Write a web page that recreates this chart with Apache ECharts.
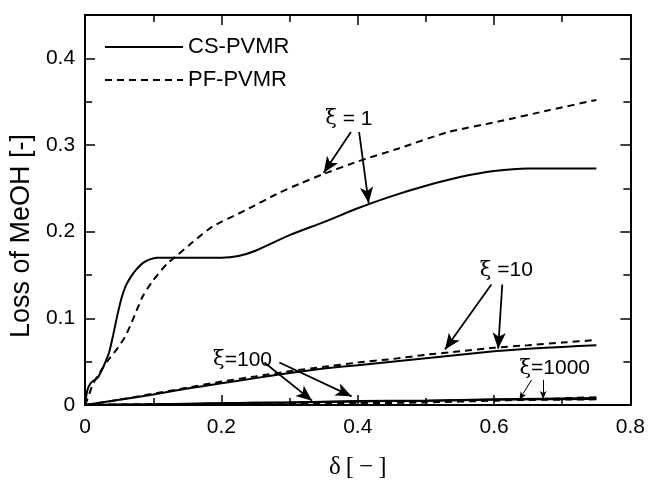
<!DOCTYPE html>
<html>
<head>
<meta charset="utf-8">
<script src="https://cdn.jsdelivr.net/npm/echarts@6/dist/echarts.min.js"></script>
<style>html,body{margin:0;padding:0;background:#fff}#c{width:648px;height:485px}</style>
</head>
<body>
<div id="c"></div>
<script>
// ---- data ----
var xTicks = [0, 0.2, 0.4, 0.6, 0.8];
var yTicks = [0, 0.1, 0.2, 0.3, 0.4];
var legendNames = ['CS-PVMR', 'PF-PVMR'];

// xi = 1
var cs1 = [[0,0],[0.003,0.016],[0.007,0.024],[0.012,0.028],[0.018,0.031],[0.025,0.041],[0.030,0.050],[0.035,0.060],[0.041,0.080],[0.048,0.106],[0.054,0.125],[0.060,0.138],[0.068,0.149],[0.076,0.157],[0.085,0.164],[0.095,0.168],[0.105,0.170],[0.150,0.170],[0.200,0.170],[0.225,0.172],[0.250,0.178],[0.300,0.196],[0.350,0.211],[0.400,0.227],[0.450,0.241],[0.500,0.253],[0.550,0.263],[0.600,0.270],[0.650,0.273],[0.750,0.273]];
var pf1 = [[0,0],[0.003,0.006],[0.012,0.025],[0.022,0.038],[0.032,0.050],[0.048,0.066],[0.058,0.078],[0.066,0.091],[0.075,0.108],[0.085,0.126],[0.099,0.143],[0.120,0.163],[0.134,0.172],[0.158,0.188],[0.187,0.206],[0.236,0.225],[0.285,0.245],[0.314,0.255],[0.348,0.266],[0.400,0.281],[0.460,0.296],[0.533,0.315],[0.606,0.327],[0.680,0.340],[0.750,0.352]];
// xi = 10
var cs10 = [[0,0],[0.05,0.006],[0.10,0.012],[0.15,0.019],[0.20,0.025],[0.25,0.031],[0.30,0.037],[0.35,0.042],[0.40,0.046],[0.45,0.050],[0.50,0.054],[0.55,0.058],[0.60,0.062],[0.65,0.065],[0.70,0.067],[0.75,0.069]];
var pf10 = [[0,0],[0.05,0.006],[0.10,0.013],[0.15,0.020],[0.20,0.027],[0.25,0.033],[0.30,0.039],[0.35,0.044],[0.40,0.049],[0.45,0.053],[0.50,0.058],[0.55,0.062],[0.60,0.066],[0.65,0.069],[0.70,0.072],[0.75,0.075]];
// xi = 100
var cs100 = [[0,0],[0.10,0.0005],[0.20,0.002],[0.30,0.003],[0.40,0.0045],[0.50,0.005],[0.60,0.006],[0.75,0.007]];
var pf100 = [[0,0],[0.10,0.0008],[0.20,0.0015],[0.30,0.0025],[0.40,0.0035],[0.50,0.0045],[0.60,0.0055],[0.75,0.0065]];
// xi = 1000
var cs1000 = [[0,0],[0.10,0.001],[0.20,0.002],[0.30,0.003],[0.40,0.004],[0.50,0.005],[0.60,0.0065],[0.75,0.008]];
var pf1000 = [[0,0],[0.10,0.0005],[0.20,0.001],[0.30,0.0015],[0.40,0.002],[0.50,0.003],[0.60,0.005],[0.75,0.009]];

// annotations
var noteText = [' = 1', ' =10', '=100', '=1000'];
var notePos = [[0.387, 0.330], [0.618, 0.155], [0.231, 0.052], [0.689, 0.042]];
// arrows: [fromX, fromY, toX, toY]
var arrows = [
  [0.390, 0.315, 0.350, 0.268],
  [0.402, 0.315, 0.416, 0.233],
  [0.596, 0.139, 0.528, 0.064],
  [0.612, 0.139, 0.606, 0.065],
  [0.263, 0.049, 0.333, 0.005],
  [0.285, 0.049, 0.391, 0.010]
];
var thinArrows = [
  [0.655, 0.029, 0.637, 0.006],
  [0.672, 0.029, 0.672, 0.007]
];

// ---- chart ----
var chart = echarts.init(document.getElementById('c'));
var sans = '"Liberation Sans", Arial, Helvetica, sans-serif';
var serif = '"DejaVu Serif", "Liberation Serif", serif';
var tserif = '"Liberation Serif", "Times New Roman", serif';

function solid(name, data, extra) {
  var s = {name: name, type: 'line', data: data, symbol: 'none', showSymbol: false, smooth: 0.2,
    lineStyle: {color: '#000', width: 2, type: 'solid'}, itemStyle: {color: '#000'}, z: 3, silent: true};
  for (var k in extra) s[k] = extra[k];
  return s;
}
function dashed(name, data, extra) {
  var s = {name: name, type: 'line', data: data, symbol: 'none', showSymbol: false, smooth: 0.2,
    lineStyle: {color: '#000', width: 2, type: [7, 5]}, itemStyle: {color: '#000'}, z: 3, silent: true};
  for (var k in extra) s[k] = extra[k];
  return s;
}

var noteData = notePos.map(function (p, i) {
  return {coord: p, symbol: 'rect', symbolSize: 1, itemStyle: {color: 'rgba(0,0,0,0)'},
    label: {show: true, position: 'inside', formatter: '{g|ξ}{t|' + noteText[i] + '}',
      rich: {g: {fontFamily: serif, fontSize: 21, color: '#000'}, t: {fontFamily: sans, fontSize: 21, color: '#000'}}}};
});

var arrowData = arrows.map(function (a) {
  return [{coord: [a[0], a[1]]}, {coord: [a[2], a[3]]}];
});
var thinData = thinArrows.map(function (a) {
  return [{coord: [a[0], a[1]]}, {coord: [a[2], a[3]]}];
});

var axisCommon = {
  axisLine: {show: true, onZero: false, lineStyle: {color: '#000', width: 2}},
  axisTick: {show: true, inside: true, length: 10, lineStyle: {color: '#000', width: 1.5}},
  minorTick: {show: true, splitNumber: 2, length: 7, lineStyle: {color: '#000', width: 1.5}},
  splitLine: {show: false}, minorSplitLine: {show: false}
};
function mk(base, extra) {
  var o = JSON.parse(JSON.stringify(base));
  for (var k in extra) o[k] = extra[k];
  return o;
}

chart.setOption({
  animation: false,
  backgroundColor: '#fff',
  grid: {left: 85, right: 15, top: 15, bottom: 71, containLabel: false},
  legend: {
    data: legendNames, orient: 'vertical', left: 99, top: 31, itemWidth: 78, itemHeight: 14, itemGap: 11,
    textStyle: {fontFamily: sans, fontSize: 22, color: '#000'}, selectedMode: false,
    itemStyle: {opacity: 0}
  },
  xAxis: [
    mk(axisCommon, {type: 'value', position: 'bottom', min: 0, max: 0.8, interval: 0.2,
      axisLabel: {show: true, margin: 12, fontFamily: sans, fontSize: 21, color: '#000',
        formatter: function (v) { var r = Math.round(v * 10) / 10; return xTicks.indexOf(r) >= 0 ? String(r) : ''; }},
      name: 'δ\u2009[\u2009−\u2009]', nameLocation: 'middle', nameGap: 50,
      nameTextStyle: {fontFamily: tserif, fontSize: 25, color: '#000'}}),
    mk(axisCommon, {type: 'value', position: 'top', min: 0, max: 0.8, interval: 0.2, axisLabel: {show: false}})
  ],
  yAxis: [
    mk(axisCommon, {type: 'value', position: 'left', min: 0, max: 0.45, interval: 0.1,
      axisLabel: {show: true, margin: 10, fontFamily: sans, fontSize: 21, color: '#000', showMaxLabel: false,
        formatter: function (v) { var r = Math.round(v * 10) / 10; return yTicks.indexOf(r) >= 0 && Math.abs(v - r) < 1e-6 ? String(r) : ''; }},
      name: 'Loss of MeOH [-]', nameLocation: 'middle', nameGap: 46,
      nameTextStyle: {fontFamily: sans, fontSize: 27, color: '#000', padding: [0, 52, 0, 0]}}),
    mk(axisCommon, {type: 'value', position: 'right', min: 0, max: 0.45, interval: 0.1, axisLabel: {show: false}})
  ],
  series: [
    solid('CS-PVMR', cs1, {
      markLine: {silent: true, symbol: ['none', 'arrow'], symbolSize: [10, 16], precision: 4,
        lineStyle: {color: '#000', width: 1.8, type: 'solid'}, label: {show: false}, emphasis: {disabled: true},
        animation: false, data: arrowData},
      markPoint: {silent: true, data: noteData, animation: false}
    }),
    dashed('PF-PVMR', pf1, {
      markLine: {silent: true, symbol: ['none', 'arrow'], symbolSize: [5, 8], precision: 4,
        lineStyle: {color: '#000', width: 1, type: 'solid'}, label: {show: false}, emphasis: {disabled: true},
        animation: false, data: thinData}
    }),
    solid('CS-PVMR', cs10),
    dashed('PF-PVMR', pf10),
    solid('CS-PVMR', cs100),
    dashed('PF-PVMR', pf100),
    solid('CS-PVMR', cs1000),
    dashed('PF-PVMR', pf1000)
  ]
});
</script>
</body>
</html>
